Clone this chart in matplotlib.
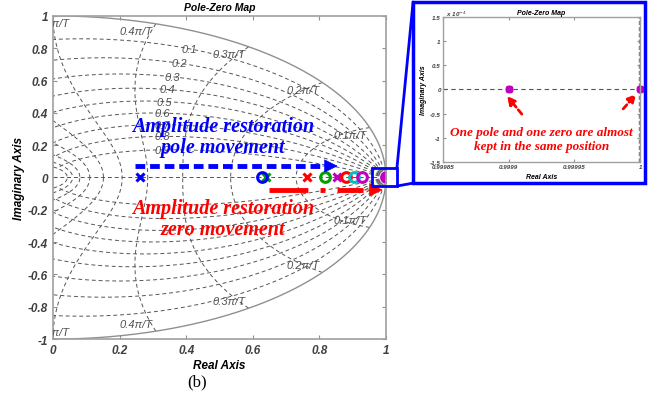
import numpy as np
import matplotlib
matplotlib.use('Agg')
import matplotlib.pyplot as plt
from matplotlib.patches import Rectangle, ConnectionPatch

plt.rcParams['font.family'] = ['Liberation Sans', 'DejaVu Sans']

# pole / zero positions on the real axis
pole_re = [0.26, 0.64, 0.764, 0.853, 1.0]
pole_col = ['#0000ff', '#00a000', '#ff0000', '#c000c0', '#c000c0']
zero_re = [0.629, 0.817, 0.88, 0.904, 0.928, 1.0]
zero_col = ['#0000ff', '#00a000', '#ff0000', '#00c0c0', '#c000c0', '#c000c0']

# zoomed view near z = 1
inset_pole_re = [0.9999, 1.0]
inset_zero_re = [0.9999, 1.0]

zetas = [0.1, 0.2, 0.3, 0.4, 0.5, 0.6, 0.7, 0.8, 0.9]
freqs = [0.1, 0.2, 0.3, 0.4, 0.5, 0.6, 0.7, 0.8, 0.9, 1.0]  # x pi/T
freq_labels = ['0.1\u03c0/T', '0.2\u03c0/T', '0.3\u03c0/T', '0.4\u03c0/T', '0.5\u03c0/T']

x_ticks = [0, 0.2, 0.4, 0.6, 0.8, 1]
y_ticks = [-1, -0.8, -0.6, -0.4, -0.2, 0, 0.2, 0.4, 0.6, 0.8, 1]
inset_xticks = [0.99985, 0.9999, 0.99995, 1.0]
inset_xticklabels = ['0.99985', '0.9999', '0.99995', '1']
inset_yticks = [-1.5e-4, -1e-4, -0.5e-4, 0, 0.5e-4, 1e-4, 1.5e-4]
inset_yticklabels = ['-1.5', '-1', '-0.5', '0', '0.5', '1', '1.5']

grid_kw = dict(color='#555555', lw=0.7, ls=(0, (4, 3)))
tick_font = dict(fontsize=8.5, fontweight='bold', style='italic', color='#404040')
serif = ['Liberation Serif', 'DejaVu Serif']

fig = plt.figure(figsize=(6.62, 4.02), dpi=100)
ax = fig.add_axes([0.080, 0.154, 0.503, 0.804])

# z-plane grid: constant damping curves
w = np.linspace(0, np.pi, 400)
for z in zetas:
    pts = np.exp(-z * w + 1j * w * np.sqrt(1 - z ** 2))
    ax.plot(pts.real, pts.imag, **grid_kw)
    ax.plot(pts.real, -pts.imag, **grid_kw)
    lab = np.exp(-z * 1.1 + 1j * 1.1 * np.sqrt(1 - z ** 2))
    ax.text(lab.real, lab.imag, f'{z:.1f}', fontsize=8, style='italic',
            color='#505050', ha='center', va='center')

# constant natural frequency curves
zz = np.linspace(0, 1, 200)
for f in freqs:
    wn = f * np.pi
    pts = np.exp(-zz * wn + 1j * wn * np.sqrt(1 - zz ** 2))
    ax.plot(pts.real, pts.imag, **grid_kw)
    ax.plot(pts.real, -pts.imag, **grid_kw)
for f, lab in zip(freqs[:5], freq_labels):
    p = np.exp(1j * f * np.pi)
    for s in (1, -1):
        ax.text(max(p.real - 0.01, 0.05), s * (p.imag - 0.045), lab, fontsize=8,
                style='italic', color='#505050', ha='right', va='center',
                clip_on=True)

th = np.linspace(0, 2 * np.pi, 500)
ax.plot(np.cos(th), np.sin(th), color='#909090', lw=1.0)
ax.axhline(0, **grid_kw)

for x, c in zip(pole_re, pole_col):
    ax.plot(x, 0, marker='x', color=c, ms=6, mew=2.2, ls='none')
for x, c in zip(zero_re, zero_col):
    ax.plot(x, 0, marker='o', mfc='none', mec=c, ms=7, mew=2.2, ls='none')

ax.set_xlim(0, 1)
ax.set_ylim(-1, 1)
ax.set_xticks(x_ticks)
ax.set_xticklabels(['0', '0.2', '0.4', '0.6', '0.8', '1'], **tick_font)
ax.set_yticks(y_ticks)
ax.set_yticklabels(['-1', '-0.8', '-0.6', '-0.4', '-0.2', '0', '0.2', '0.4',
                    '0.6', '0.8', '1'], **tick_font)
ax.tick_params(direction='in', top=True, right=True, length=3, color='#909090')
for sp in ax.spines.values():
    sp.set_color('#a0a0a0')
    sp.set_linewidth(1.2)
ax.set_title('Pole-Zero Map', fontsize=7.5, fontweight='bold', style='italic', pad=4)
ax.set_xlabel('Real Axis', fontsize=8.5, fontweight='bold', style='italic', labelpad=2)
ax.set_ylabel('Imaginary Axis', fontsize=8.5, fontweight='bold', style='italic', labelpad=2)

# annotations
ax.text(0.51, 0.254, 'Amplitude restoration\npole movement', color='#0000ff',
        fontsize=14.5, fontweight='bold', style='italic', family=serif,
        ha='center', va='center', multialignment='center', linespacing=1.1)
ax.text(0.51, -0.254, 'Amplitude restoration\nzero movement', color='#ff0000',
        fontsize=14.5, fontweight='bold', style='italic', family=serif,
        ha='center', va='center', multialignment='center', linespacing=1.1)

blue_arrow = (0.245, 0.82, 0.071)
ax.plot([blue_arrow[0], blue_arrow[1]], [blue_arrow[2]] * 2, color='#0000ff',
        lw=3.5, ls=(0, (2, 1)), solid_capstyle='butt')
ax.annotate('', xy=(0.855, blue_arrow[2]), xytext=(0.81, blue_arrow[2]),
            arrowprops=dict(arrowstyle='-|>', color='#0000ff', lw=0.5,
                            mutation_scale=22, shrinkA=0, shrinkB=0))
red_arrow = (0.65, 0.93, -0.077)
ax.plot([red_arrow[0], red_arrow[1]], [red_arrow[2]] * 2, color='#ff0000',
        lw=3.5, ls=(0, (8, 2.5, 1, 2.5)), solid_capstyle='butt')
ax.annotate('', xy=(0.99, red_arrow[2]), xytext=(0.93, red_arrow[2]),
            arrowprops=dict(arrowstyle='-|>', color='#ff0000', lw=0.5,
                            mutation_scale=22, shrinkA=0, shrinkB=0),
            annotation_clip=False)

# box around z = 1
ax.add_patch(Rectangle((0.958, -0.053), 0.075, 0.112, fill=False,
                       ec='#0000ff', lw=2, clip_on=False, zorder=5))

# inset frame
fig.add_artist(Rectangle((0.624, 0.542), 0.350, 0.450, fill=False, ec='#0000ff',
                         lw=2.5, transform=fig.transFigure))
for yd, yf in [(0.059, 0.9925), (-0.053, 0.542)]:
    fig.add_artist(ConnectionPatch(xyA=(1.033, yd), coordsA=ax.transData,
                                   xyB=(0.624, yf), coordsB=fig.transFigure,
                                   color='#0000ff', lw=2))

ins = fig.add_axes([0.669, 0.5945, 0.298, 0.361])
ins.axhline(0, color='#555555', lw=0.8, ls=(0, (4, 3)))
ins.axvline(1.0, color='#808080', lw=2.5, ls=(0, (1.2, 0.6)))
ins.plot(inset_pole_re, [0] * len(inset_pole_re), marker='x', color='#c000c0',
         ms=4, mew=1.8, ls='none', clip_on=False)
ins.plot(inset_zero_re, [0] * len(inset_zero_re), marker='o', mfc='none',
         mec='#c000c0', ms=4, mew=1.8, ls='none', clip_on=False)
ins.set_xlim(0.99985, 1.0)
ins.set_ylim(-1.5e-4, 1.5e-4)
small = dict(fontsize=4.5, fontweight='bold', style='italic', color='#404040')
ins.set_xticks(inset_xticks)
ins.set_xticklabels(inset_xticklabels, **small)
ins.set_yticks(inset_yticks)
ins.set_yticklabels(inset_yticklabels, **small)
ins.tick_params(direction='in', top=True, right=True, length=2, pad=1.5,
                color='#909090')
for sp in ins.spines.values():
    sp.set_color('#a0a0a0')
    sp.set_linewidth(1.0)
ins.text(0.0, 1.01, '  x 10$^{-4}$', transform=ins.transAxes, **small)
ins.set_title('Pole-Zero Map', fontsize=5, fontweight='bold', style='italic', pad=2)
ins.set_xlabel('Real Axis', fontsize=5, fontweight='bold', style='italic', labelpad=3)
ins.set_ylabel('Imaginary Axis', fontsize=5, fontweight='bold', style='italic', labelpad=2)
ins.text(0.50, 0.16, 'One pole and one zero are almost\nkept in the same position',
         transform=ins.transAxes, color='#ff0000', fontsize=9.5, fontweight='bold',
         style='italic', family=serif, ha='center', va='center', linespacing=1.2)
for tail, head in [((0.40, 0.33), (0.325, 0.455)), ((0.914, 0.366), (0.98, 0.469))]:
    ins.annotate('', xy=head, xytext=tail, xycoords='axes fraction',
                 arrowprops=dict(arrowstyle='-|>', color='#ff0000', lw=2,
                                 ls=(0, (2, 1.2)), mutation_scale=12,
                                 shrinkA=0, shrinkB=0))

fig.text(0.298, 0.05, '(b)', fontsize=12, family=serif, ha='center', va='center')

fig.savefig('out.png', dpi=100)
